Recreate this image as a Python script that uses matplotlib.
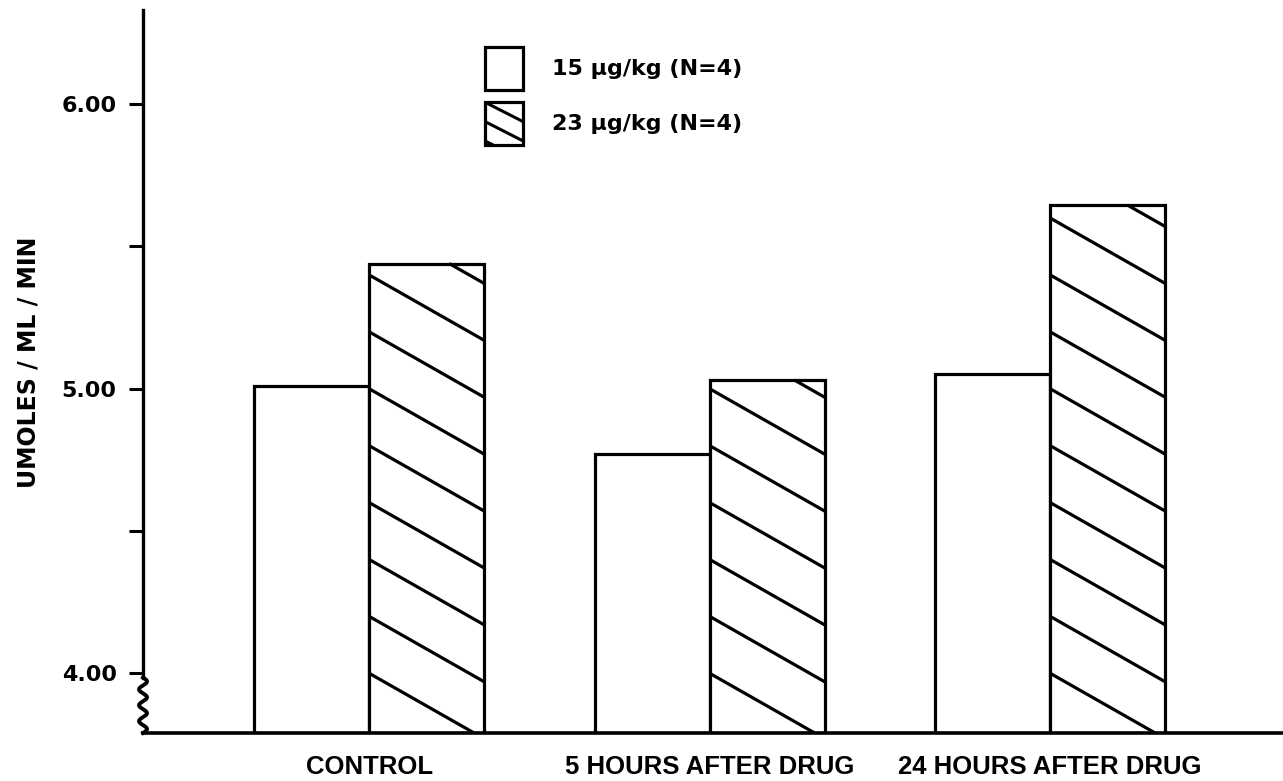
import matplotlib
matplotlib.use("Agg")
import matplotlib.pyplot as plt
import numpy as np
from matplotlib.legend_handler import HandlerBase
from matplotlib.patches import Rectangle
from matplotlib.lines import Line2D

# ---- data ----
categories = ["CONTROL", "5 HOURS AFTER DRUG", "24 HOURS AFTER DRUG"]
dose15 = [5.01, 4.77, 5.05]
dose23 = [5.44, 5.03, 5.645]
series_labels = ["15 \u00b5g/kg (N=4)", "23 \u00b5g/kg (N=4)"]
major_ticks = [4.0, 5.0, 6.0]
minor_ticks = [4.5, 5.5]
ylabel = "UMOLES / ML / MIN"

W, H = 1283, 781
fig = plt.figure(figsize=(W / 100, H / 100), dpi=100)
fig.patch.set_facecolor("white")
ax = fig.add_axes([143 / W, 48 / H, 1 - 143 / W, (733 - 10) / H])

ymin, ymax = 3.79, 6.331
bw = 0.338
x = np.arange(len(categories))
LW = 2.3

b1 = ax.bar(x - bw / 2, np.array(dose15) - ymin, bottom=ymin, width=bw,
            facecolor="white", edgecolor="black", linewidth=LW, label=series_labels[0])
b2 = ax.bar(x + bw / 2, np.array(dose23) - ymin, bottom=ymin, width=bw,
            facecolor="white", edgecolor="black", linewidth=LW, label=series_labels[1])

# custom 30-degree-ish hatching for second series
drop = 0.23   # data units dropped across one bar width
step = 0.2
for r in b2.patches:
    x0, wd = r.get_x(), r.get_width()
    bot = r.get_y()
    top = bot + r.get_height()
    for yk in np.arange(4.0, top + drop + step, step):
        xa = max(x0, x0 + (yk - top) * wd / drop)
        xb = min(x0 + wd, x0 + (yk - bot) * wd / drop)
        if xb > xa:
            ya = yk - drop * (xa - x0) / wd
            yb = yk - drop * (xb - x0) / wd
            ax.plot([xa, xb], [ya, yb], color="black", lw=2.3,
                    solid_capstyle="butt", zorder=3)

ax.set_xlim(-0.664, 2.684)
ax.set_ylim(ymin, ymax)

for s in ["top", "right"]:
    ax.spines[s].set_visible(False)
ax.spines["left"].set_linewidth(2.4)
ax.spines["bottom"].set_linewidth(2.6)
ax.spines["left"].set_bounds(3.985, ymax)

# wavy axis break
t = np.linspace(ymin, 3.985, 200)
xw = 0.0035 * np.sin(2 * np.pi * (t - ymin) / ((3.985 - ymin) / 3.5))
ax.plot(xw, t, color="black", lw=2.8, transform=ax.get_yaxis_transform(), clip_on=False)

ax.set_yticks(major_ticks)
ax.set_yticklabels([f"{v:.2f}" for v in major_ticks])
ax.set_yticks(minor_ticks, minor=True)
ax.tick_params(axis="y", which="both", direction="out", length=10, width=2.2, pad=9)
for lab in ax.get_yticklabels():
    lab.set_fontsize(16)
    lab.set_fontweight("bold")

ax.set_xticks(x)
ax.set_xticklabels(categories)
ax.tick_params(axis="x", length=0, pad=16)
for lab in ax.get_xticklabels():
    lab.set_family(["Liberation Sans", "DejaVu Sans"])
    lab.set_fontsize(18.5)
    lab.set_fontweight("bold")

fig.text(29 / W, 1 - 362 / H, ylabel, rotation=90, ha="center", va="center",
         fontsize=17, fontweight="bold")


class BoxHandler(HandlerBase):
    def __init__(self, hatched):
        super().__init__(xpad=0.0, ypad=0.0)
        self.hatched = hatched

    def create_artists(self, legend, orig_handle, xdescent, ydescent,
                       width, height, fontsize, trans):
        x0, y0 = -xdescent, -ydescent
        arts = [Rectangle((x0, y0), width, height, facecolor="white",
                          edgecolor="black", lw=LW, transform=trans)]
        if self.hatched:
            d = 0.45 * height
            top = y0 + height
            for k in range(-1, 4):
                yk = top - k * d
                xa = max(x0, x0 + (yk - top) * width / d)
                xb = min(x0 + width, x0 + (yk - y0) * width / d)
                if xb > xa:
                    ya = yk - d * (xa - x0) / width
                    yb = yk - d * (xb - x0) / width
                    arts.append(Line2D([xa, xb], [ya, yb], color="black", lw=2.2,
                                       solid_capstyle="butt", transform=trans))
        return arts


ax.legend(handles=[b1, b2], labels=series_labels,
          handler_map={b1: BoxHandler(False), b2: BoxHandler(True)},
          loc="upper left", bbox_to_anchor=(485 / W, 1 - 47 / H),
          bbox_transform=fig.transFigure, frameon=False, borderpad=0,
          borderaxespad=0, prop={"weight": "bold", "size": 16},
          handlelength=1.71, handleheight=2.6, labelspacing=0.55,
          handletextpad=1.3)

fig.savefig("out.png", dpi=100, facecolor="white")
